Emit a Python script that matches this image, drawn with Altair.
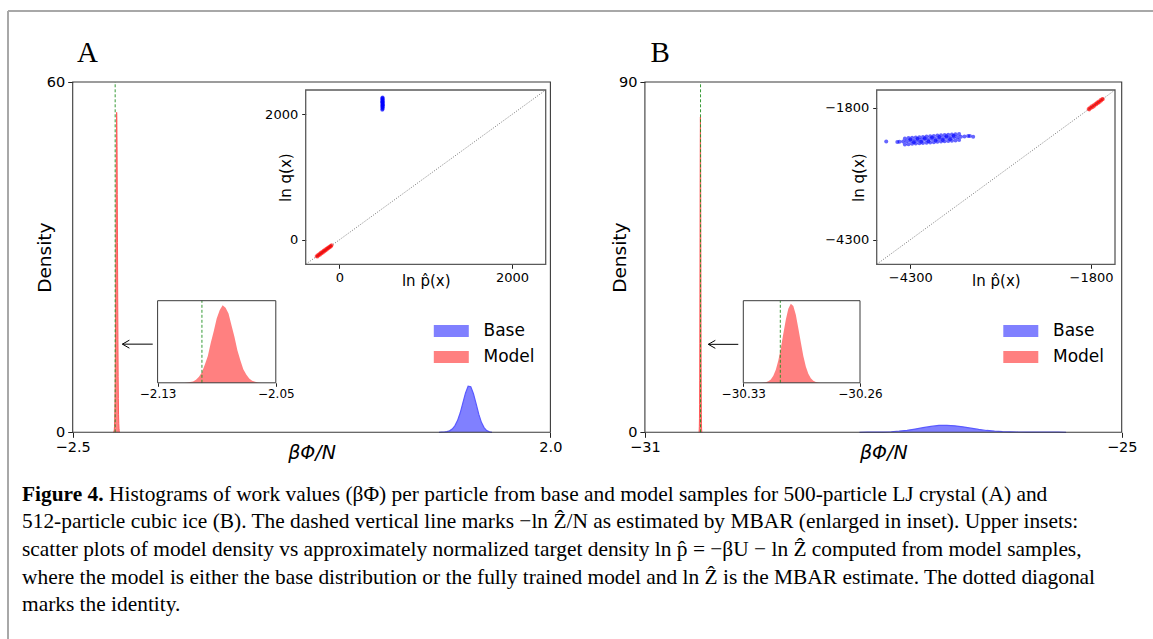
import altair as alt
import pandas as pd

W, H = 1153, 639

# ---------------- data ----------------
# Panel A: histogram of beta*Phi/N
a_base_x = [0.95, 0.975, 1.0, 1.025, 1.05, 1.075, 1.1, 1.125, 1.15, 1.175, 1.2,
            1.225, 1.25, 1.275, 1.3, 1.325, 1.35, 1.375, 1.4, 1.425, 1.45]
a_base_y = [0, 0.02, 0.05, 0.12, 0.25, 0.55, 1.1, 2.0, 3.3, 5.0, 6.7,
            7.9, 7.8, 6.6, 4.9, 3.1, 1.7, 0.8, 0.3, 0.08, 0]
a_model_x = [-2.120, -2.118, -2.116, -2.114, -2.112, -2.110, -2.108, -2.106, -2.104, -2.102,
             -2.100, -2.098, -2.096, -2.094, -2.092, -2.090, -2.088, -2.086, -2.084, -2.082,
             -2.080, -2.078, -2.076, -2.074, -2.072, -2.070, -2.068, -2.066, -2.064, -2.062,
             -2.060, -2.058]
a_model_y = [0, 0.01, 0.02, 0.05, 0.1, 0.2, 0.5, 1.0, 2.2, 4.3,
             7.4, 12.9, 19.0, 28.3, 36.5, 45.4, 51.2, 54.8, 53.1, 48.9,
             40.7, 32.5, 23.0, 15.9, 9.6, 5.8, 3.0, 1.5, 0.7, 0.3,
             0.1, 0]
a_mbar = -2.100

# Panel B
b_base_x = [-28.3, -28.2, -28.1, -28.0, -27.9, -27.8, -27.7, -27.6, -27.5, -27.4,
            -27.3, -27.2, -27.1, -27.0, -26.9, -26.8, -26.7, -26.6, -26.5, -26.4,
            -26.3, -26.2, -26.1, -26.0, -25.9, -25.8, -25.7]
b_base_y = [0, 0.02, 0.03, 0.06, 0.14, 0.28, 0.5, 0.82, 1.18, 1.52,
            1.76, 1.8, 1.66, 1.4, 1.06, 0.74, 0.47, 0.29, 0.17, 0.11,
            0.08, 0.06, 0.05, 0.04, 0.03, 0.02, 0]
b_model_x = [-30.3195, -30.3180, -30.3165, -30.3150, -30.3135, -30.3120, -30.3105, -30.3090,
             -30.3075, -30.3060, -30.3045, -30.3030, -30.3015, -30.3000, -30.2985, -30.2970,
             -30.2955, -30.2940, -30.2925, -30.2910, -30.2895, -30.2880, -30.2865, -30.2850,
             -30.2835, -30.2820]
b_model_y = [0, 0.2, 0.6, 1.5, 3.5, 7.2, 13.4, 22.9, 35.3, 50.1, 64.6, 75.7, 81.0,
             78.7, 69.7, 55.9, 41.4, 27.5, 16.7, 9.3, 4.6, 2.2, 0.9, 0.35, 0.1, 0]
b_mbar = -30.3078

# Upper-inset scatter data: ln p_hat(x) vs ln q(x)
sa_blue_x = [497, 500, 502, 499, 501, 498, 503, 500, 499, 502, 501, 498, 500, 503, 497, 501, 499, 500, 502, 498]
sa_blue_y = [2075, 2088, 2101, 2113, 2126, 2138, 2150, 2162, 2174, 2186, 2198, 2209, 2220, 2231, 2242, 2252, 2262, 2270, 2145, 2195]
sa_red_x = [-265, -256, -248, -240, -232, -224, -216, -208, -200, -192, -184, -176,
            -168, -160, -152, -144, -136, -128, -120, -112, -104, -96, -90]
sa_red_y = [-258, -268, -240, -251, -222, -236, -205, -219, -190, -204, -172, -187,
            -158, -170, -140, -155, -128, -136, -112, -121, -96, -104, -86]

sb_blue_x = [-4450, -4400, -4350, -4300, -4250, -4200, -4150, -4100, -4050, -4000,
             -3950, -3900, -3850, -3800, -3750, -3700, -3650, -3600, -3550, -3500,
             -4375, -4325, -4275, -4225, -4175, -4125, -4075, -4025, -3975, -3925,
             -3875, -3825, -3775, -3725, -3675, -3625,
             -4375, -4325, -4275, -4225, -4175, -4125, -4075, -4025, -3975, -3925,
             -3875, -3825, -3775, -3725, -3675, -3625,
             -4300, -4200, -4100, -4000, -3900, -3800, -3700,
             -4250, -4150, -4050, -3950, -3850, -3750,
             -4633, -4480, -3476, -3430]
sb_blue_y = [-2448, -2440, -2438, -2429, -2427, -2417, -2416, -2406, -2405, -2395,
             -2393, -2384, -2382, -2372, -2371, -2361, -2360, -2350, -2348, -2340,
             -2385, -2378, -2372, -2368, -2360, -2356, -2348, -2343, -2338, -2330,
             -2326, -2320, -2314, -2310, -2304, -2300,
             -2499, -2494, -2487, -2482, -2477, -2471, -2466, -2460, -2454, -2449,
             -2443, -2437, -2432, -2426, -2421, -2415,
             -2402, -2390, -2380, -2368, -2357, -2345, -2333,
             -2458, -2446, -2436, -2424, -2412, -2401,
             -2444, -2452, -2336, -2351]
sb_red_x = [-1835, -1824, -1812, -1800, -1788, -1776, -1764, -1752, -1740,
            -1728, -1716, -1704, -1692, -1680, -1668, -1656, -1644, -1634]
sb_red_y = [-1826, -1838, -1796, -1810, -1774, -1792, -1752, -1768, -1730,
            -1742, -1704, -1718, -1682, -1694, -1656, -1668, -1636, -1640]

# arrows (tip x, tail x, y) in main-panel data units
a_arrow = [-2.032, -1.746, 15.1]
b_arrow = [-30.202, -29.825, 22.6]

series_names = ["Base", "Model"]
series_colors = ["#8080ff", "#ff8080"]

caption_bold = "Figure 4."
caption_lines = [
    "Histograms of work values (βΦ) per particle from base and model samples for 500-particle LJ crystal (A) and",
    "512-particle cubic ice (B). The dashed vertical line marks −ln Ẑ/N as estimated by MBAR (enlarged in inset). Upper insets:",
    "scatter plots of model density vs approximately normalized target density ln p̂ = −βU − ln Ẑ computed from model samples,",
    "where the model is either the base distribution or the fully trained model and ln Ẑ is the MBAR estimate. The dotted diagonal",
    "marks the identity.",
]

# ---------------- layout (pixel frames of each axes) ----------------
FR = {
    "A": dict(xd=[-2.5, 2.0], xr=[72.7, 550.4], yd=[0, 60], yr=[432.3, 82.0]),
    "B": dict(xd=[-31, -25], xr=[644.9, 1121.7], yd=[0, 90], yr=[432.3, 82.0]),
    "iA": dict(xd=[-2.13, -2.05], xr=[157.6, 275.8], yd=[0, 58], yr=[382.8, 300.7]),
    "iB": dict(xd=[-30.33, -30.26], xr=[743.3, 860.0], yd=[0, 84], yr=[382.8, 300.7]),
    "sA": dict(xd=[-390, 2390], xr=[305.7, 545.7], yd=[-390, 2390], yr=[264.3, 90.0]),
    "sB": dict(xd=[-4765, -1468], xr=[876.7, 1115.0], yd=[-4765, -1468], yr=[264.3, 90.0]),
}

FONT = "DejaVu Sans"


def sx(k):
    f = FR[k]
    return alt.Scale(domain=f["xd"], range=f["xr"], nice=False, zero=False)


def sy(k):
    f = FR[k]
    return alt.Scale(domain=f["yd"], range=f["yr"], nice=False, zero=False)


def axis(**kw):
    base = dict(grid=False, domain=False, labelFont=FONT, labelColor="black",
                tickColor="#222", tickWidth=1, labelOverlap=False, labelFlush=False,
                titleFont=FONT, titleFontWeight="normal", titleColor="black")
    base.update(kw)
    return alt.Axis(**base)


def enc(k, xf, yf, **extra):
    return dict(x=alt.X(xf, scale=sx(k), axis=None),
                y=alt.Y(yf, scale=sy(k), axis=None, stack=None), **extra)


layers = []

# ---------- figure frame ----------
layers.append(alt.Chart(pd.DataFrame({"a": [0]})).mark_rule(color="#a8a8a8", strokeWidth=2).encode(
    x=alt.value(8), x2=alt.value(W), y=alt.value(11)))
layers.append(alt.Chart(pd.DataFrame({"a": [0]})).mark_rule(color="#a8a8a8", strokeWidth=2).encode(
    x=alt.value(8), y=alt.value(11), y2=alt.value(H)))


def main_panel(k, base_x, base_y, model_x, model_y, mbar, xvals, xfmt, yvals, dens_x, legend_x, arrow):
    f = FR[k]
    hist = pd.DataFrame({
        "x": base_x + model_x,
        "y": base_y + model_y,
        "series": ["Base"] * len(base_x) + ["Model"] * len(model_x),
    })
    out = []
    out.append(alt.Chart(hist).mark_area(interpolate="linear", opacity=1).encode(
        x=alt.X("x:Q", scale=sx(k), axis=None),
        y=alt.Y("y:Q", scale=sy(k), axis=None, stack=None),
        color=alt.Color("series:N", scale=alt.Scale(domain=series_names, range=series_colors),
                        legend=alt.Legend(orient="none", legendX=legend_x, legendY=313.5, title=None,
                                          direction="vertical", symbolType="M-1,-0.34H1V0.34H-1Z",
                                          symbolSize=1225, symbolStrokeWidth=0, symbolOpacity=1,
                                          labelFont=FONT, labelFontSize=17, labelColor="black",
                                          labelOffset=14.7, rowPadding=-10, padding=0)),
    ))
    bdf = pd.DataFrame({"x": base_x, "y": base_y})
    out.append(alt.Chart(bdf).mark_line(color="#5a5aff", strokeWidth=1.2).encode(**enc(k, "x:Q", "y:Q")))
    mdf = pd.DataFrame({"x": model_x, "y": model_y})
    out.append(alt.Chart(mdf).mark_line(color="#ff5a5a", strokeWidth=1).encode(**enc(k, "x:Q", "y:Q")))
    # MBAR dashed line
    ddf = pd.DataFrame({"x": [mbar], "y0": [f["yd"][0]], "y1": [f["yd"][1]]})
    out.append(alt.Chart(ddf).mark_rule(color="#1f8f1f", strokeDash=[3, 2], strokeWidth=0.9).encode(
        x=alt.X("x:Q", scale=sx(k), axis=None),
        y=alt.Y("y0:Q", scale=sy(k), axis=None), y2="y1:Q"))
    # arrow
    adf = pd.DataFrame({"x0": [arrow[0]], "x1": [arrow[1]], "y": [arrow[2]]})
    out.append(alt.Chart(adf).mark_rule(color="black", strokeWidth=1).encode(
        x=alt.X("x0:Q", scale=sx(k), axis=None), x2="x1:Q",
        y=alt.Y("y:Q", scale=sy(k), axis=None)))
    out.append(alt.Chart(adf).mark_point(shape="M1.75,-1L0,0L1.75,1", size=64, filled=False,
                                         color="black", strokeWidth=1, opacity=1).encode(
        x=alt.X("x0:Q", scale=sx(k), axis=None),
        y=alt.Y("y:Q", scale=sy(k), axis=None)))
    # box with axes
    box = pd.DataFrame({"x0": [f["xd"][0]], "x1": [f["xd"][1]], "y0": [f["yd"][0]], "y1": [f["yd"][1]]})
    cx = (f["xr"][0] + f["xr"][1]) / 2
    cy = (f["yr"][0] + f["yr"][1]) / 2
    out.append(alt.Chart(box).mark_rect(fillOpacity=0, stroke="#3a3a3a", strokeWidth=1.1).encode(
        x=alt.X("x0:Q", scale=sx(k), axis=axis(
            orient="bottom", offset=f["yr"][0] - H, values=xvals, format=xfmt,
            labelFontSize=14.5, tickSize=5, labelPadding=3,
            title="βΦ/N", titleFontSize=19, titleFontStyle="italic",
            titleX=cx, titleY=20, titleBaseline="middle", titleAlign="center")),
        x2="x1:Q",
        y=alt.Y("y0:Q", scale=sy(k), axis=axis(
            orient="left", offset=-f["xr"][0], values=yvals, format="d",
            labelFontSize=14.5, tickSize=5, labelPadding=3,
            title="Density", titleFontSize=18.5, titleAngle=270,
            titleX=dens_x, titleY=cy, titleBaseline="middle", titleAlign="center")),
        y2="y1:Q",
    ))
    return out


def hist_inset(k, model_x, model_y, mbar, xvals):
    f = FR[k]
    out = []
    mdf = pd.DataFrame({"x": model_x, "y": model_y})
    out.append(alt.Chart(mdf).mark_area(color="#ff8080", opacity=1, interpolate="linear").encode(
        **enc(k, "x:Q", "y:Q")))
    ddf = pd.DataFrame({"x": [mbar], "y0": [f["yd"][0]], "y1": [f["yd"][1]]})
    out.append(alt.Chart(ddf).mark_rule(color="#1f8f1f", strokeDash=[3, 2], strokeWidth=0.9).encode(
        x=alt.X("x:Q", scale=sx(k), axis=None),
        y=alt.Y("y0:Q", scale=sy(k), axis=None), y2="y1:Q"))
    box = pd.DataFrame({"x0": [f["xd"][0]], "x1": [f["xd"][1]], "y0": [f["yd"][0]], "y1": [f["yd"][1]]})
    out.append(alt.Chart(box).mark_rect(fillOpacity=0, stroke="#3a3a3a", strokeWidth=1).encode(
        x=alt.X("x0:Q", scale=sx(k), axis=axis(
            orient="bottom", offset=f["yr"][0] - H, values=xvals, format=".2f",
            labelFontSize=12, tickSize=3.5, labelPadding=2.5, title=None)),
        x2="x1:Q",
        y=alt.Y("y0:Q", scale=sy(k), axis=None), y2="y1:Q"))
    return out


def scatter_inset(k, bx, by, rx, ry, vals, ytitle_x):
    f = FR[k]
    out = []
    out.append(alt.Chart(pd.DataFrame({"x": bx, "y": by})).mark_circle(
        color="blue", size=16, opacity=0.6).encode(**enc(k, "x:Q", "y:Q")))
    out.append(alt.Chart(pd.DataFrame({"x": rx, "y": ry})).mark_circle(
        color="red", size=14, opacity=0.6).encode(**enc(k, "x:Q", "y:Q")))
    diag = pd.DataFrame({"v": f["xd"]})
    out.append(alt.Chart(diag).mark_line(color="#555", strokeWidth=0.8, strokeDash=[1, 1.6]).encode(
        x=alt.X("v:Q", scale=sx(k), axis=None),
        y=alt.Y("v:Q", scale=sy(k), axis=None)))
    box = pd.DataFrame({"x0": [f["xd"][0]], "x1": [f["xd"][1]], "y0": [f["yd"][0]], "y1": [f["yd"][1]]})
    cx = (f["xr"][0] + f["xr"][1]) / 2
    cy = (f["yr"][0] + f["yr"][1]) / 2
    out.append(alt.Chart(box).mark_rect(fillOpacity=0, stroke="#5a5a5a", strokeWidth=1.3).encode(
        x=alt.X("x0:Q", scale=sx(k), axis=axis(
            orient="bottom", offset=f["yr"][0] - H, values=vals, format="d",
            labelFontSize=13, tickSize=4, labelPadding=3,
            title="ln p̂(x)", titleFontSize=15, titleX=cx, titleY=15.7,
            titleBaseline="middle", titleAlign="center")),
        x2="x1:Q",
        y=alt.Y("y0:Q", scale=sy(k), axis=axis(
            orient="left", offset=-f["xr"][0], values=vals, format="d",
            labelFontSize=13, tickSize=4, labelPadding=4,
            title="ln q(x)", titleFontSize=15, titleAngle=270,
            titleX=ytitle_x, titleY=cy, titleBaseline="middle", titleAlign="center")),
        y2="y1:Q"))
    return out


layers += main_panel("A", a_base_x, a_base_y, a_model_x, a_model_y, a_mbar,
                     [-2.5, 2.0], ".1f", [0, 60], -28.6, 433.8, a_arrow)
layers += main_panel("B", b_base_x, b_base_y, b_model_x, b_model_y, -30.300,
                     [-31, -25], "d", [0, 90], -25.8, 1003.3, b_arrow)
layers += hist_inset("iA", a_model_x, a_model_y, a_mbar, [-2.13, -2.05])
layers += hist_inset("iB", b_model_x, b_model_y, b_mbar, [-30.33, -30.26])
layers += scatter_inset("sA", sa_blue_x, sa_blue_y, sa_red_x, sa_red_y, [0, 2000], -20.7)
layers += scatter_inset("sB", sb_blue_x, sb_blue_y, sb_red_x, sb_red_y, [-4300, -1800], -18.4)

# panel letters
for letter, lx in [("A", 77), ("B", 650.4)]:
    layers.append(alt.Chart(pd.DataFrame({"t": [letter]})).mark_text(
        font="Liberation Serif", fontSize=29, align="left", baseline="alphabetic", color="black").encode(
        x=alt.value(lx), y=alt.value(62), text="t:N"))

# caption
CAP_X = 22
CAP_Y = [500.5, 528.2, 555.9, 583.6, 611.3]
CAP_FS = 21.4
layers.append(alt.Chart(pd.DataFrame({"t": [caption_bold]})).mark_text(
    font="Liberation Serif", fontSize=CAP_FS, fontWeight="bold", align="left", baseline="alphabetic",
    color="black").encode(x=alt.value(CAP_X), y=alt.value(CAP_Y[0]), text="t:N"))
for i, line in enumerate(caption_lines):
    xx = CAP_X + 87 if i == 0 else CAP_X
    layers.append(alt.Chart(pd.DataFrame({"t": [line]})).mark_text(
        font="Liberation Serif", fontSize=CAP_FS, align="left", baseline="alphabetic",
        color="black").encode(x=alt.value(xx), y=alt.value(CAP_Y[i]), text="t:N"))

chart = alt.layer(*layers).resolve_scale(
    x="independent", y="independent", color="independent"
).resolve_axis(x="independent", y="independent").properties(
    width=W, height=H, padding=0, autosize=alt.AutoSizeParams(type="none"), background="white"
).configure_view(strokeWidth=0)

chart.save("out.html", embed_options={"renderer": "svg", "actions": False})
